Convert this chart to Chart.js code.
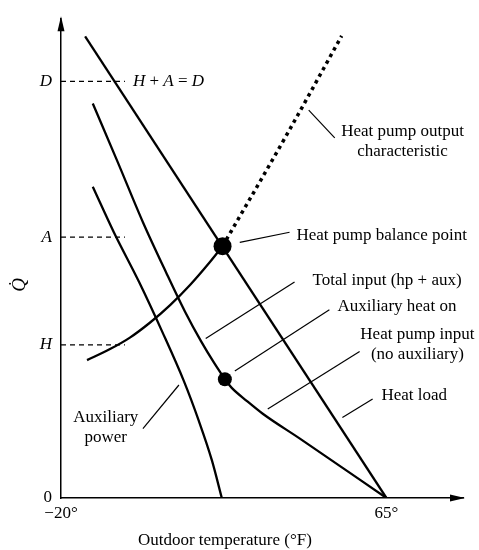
<!DOCTYPE html>
<html>
<head>
<meta charset="utf-8">
<script src="https://cdn.jsdelivr.net/npm/chart.js@4.4.1/dist/chart.umd.min.js"></script>
<style>
  body { margin: 0; background: #fff; }
  #wrap { width: 479px; height: 550px; }
</style>
</head>
<body>
<div id="wrap"><canvas id="balance-chart" width="479" height="550"></canvas></div>
<script>
// levels on the heat-rate axis (arbitrary units, 0..100)
const H = 32, A = 54.5, D = 87;

// curves: outdoor temperature (°F) -> heat rate
const loadTemp = [-13.7, 65];
const loadQ = [96.4, 0];

const outputTemp = [-13.2, -7.2, -2.0, 3.2, 8.5, 13.7, 18.9, 22.2];
const outputQ = [28.8, 31.1, 33.5, 36.6, 40.3, 44.5, 49.3, 52.6];

const outputExtTemp = [22.2, 28.8, 39.2, 53.3];
const outputExtQ = [52.6, 61.7, 76.2, 96.5];

const totalTemp = [-11.7, -5.1, 1.4, 7.4, 12.4, 16.6, 20.0, 22.8];
const totalQ = [82.4, 70.0, 57.6, 47.2, 38.9, 32.7, 28.2, 24.8];

const hpInputTemp = [22.8, 24.6, 28.5, 32.7, 42.4, 65];
const hpInputQ = [24.8, 23.0, 20.3, 17.6, 12.4, 0];

const auxTemp = [-11.7, -6.2, 0.4, 6.4, 12.1, 16.0, 19.4, 22.0];
const auxQ = [65.0, 55.5, 45.1, 34.8, 24.4, 16.1, 7.9, 0];

const balancePoint = [22.2, 52.6];
const auxOnPoint = [22.8, 24.8];

const yTicks = [0, H, A, D];
const yTickLabels = ['0', 'H', 'A', 'D'];
const xTicks = [-20, 65];
const xTickLabels = ['\u221220\u00b0', '65\u00b0'];
const guideEnd = -3.3;

const serif = "'Liberation Serif', 'DejaVu Serif', serif";

// callouts: text anchor and leader line, in data units
const notes = [
  { text: ['Heat pump output', 'characteristic'], at: [69.2, 76.6], align: 'center', line: [[44.7, 81.0], [51.5, 75.2]] },
  { text: ['Heat pump balance point'], at: [41.5, 54.9], align: 'left', line: [[26.7, 53.4], [39.7, 55.5]] },
  { text: ['Total input (hp + aux)'], at: [45.7, 45.5], align: 'left', line: [[17.8, 33.3], [41.0, 45.1]] },
  { text: ['Auxiliary heat on'], at: [52.2, 40.0], align: 'left', line: [[25.4, 26.5], [50.1, 39.3]] },
  { text: ['Heat pump input', '(no auxiliary)'], at: [73.1, 34.2], align: 'center', line: [[34.0, 18.6], [58.0, 30.6]] },
  { text: ['Heat load'], at: [63.7, 21.3], align: 'left', line: [[53.5, 16.8], [61.4, 20.7]] },
  { text: ['Auxiliary', 'power'], at: [-8.3, 16.8], align: 'center', line: [[1.4, 14.5], [10.8, 23.6]] }
];

const pts = (xs, ys) => xs.map((v, i) => ({ x: v, y: ys[i] }));

const curve = {
  showLine: true, pointRadius: 0, borderColor: '#000', backgroundColor: '#000',
  borderWidth: 2.3, cubicInterpolationMode: 'monotone', fill: false
};
const guide = {
  showLine: true, pointRadius: 0, borderColor: '#000', borderWidth: 1.2,
  borderDash: [5, 4], fill: false
};

const figureNotes = {
  id: 'figureNotes',
  afterDraw(chart) {
    const { ctx, chartArea, scales: { x, y } } = chart;
    const px = v => x.getPixelForValue(v);
    const py = v => y.getPixelForValue(v);
    ctx.save();
    ctx.fillStyle = '#000';
    ctx.strokeStyle = '#000';

    // arrow heads on both axes
    ctx.beginPath();
    ctx.moveTo(chartArea.left, chartArea.top - 3);
    ctx.lineTo(chartArea.left - 3.5, chartArea.top + 12);
    ctx.lineTo(chartArea.left + 3.5, chartArea.top + 12);
    ctx.closePath();
    ctx.fill();
    ctx.beginPath();
    ctx.moveTo(chartArea.right + 2, chartArea.bottom);
    ctx.lineTo(chartArea.right - 13, chartArea.bottom - 3.5);
    ctx.lineTo(chartArea.right - 13, chartArea.bottom + 3.5);
    ctx.closePath();
    ctx.fill();

    // leader lines and labels
    ctx.lineWidth = 1.2;
    ctx.font = '17px ' + serif;
    ctx.textBaseline = 'middle';
    notes.forEach(n => {
      ctx.beginPath();
      ctx.moveTo(px(n.line[0][0]), py(n.line[0][1]));
      ctx.lineTo(px(n.line[1][0]), py(n.line[1][1]));
      ctx.stroke();
      ctx.textAlign = n.align;
      n.text.forEach((t, i) => ctx.fillText(t, px(n.at[0]), py(n.at[1]) + i * 20));
    });

    // "H + A = D" with italic symbols
    let cx = px(-1.2);
    const cy = py(D);
    ctx.textAlign = 'left';
    [['H', true], [' + ', false], ['A', true], [' = ', false], ['D', true]].forEach(([t, it]) => {
      ctx.font = (it ? 'italic ' : '') + '17px ' + serif;
      ctx.fillText(t, cx, cy);
      cx += ctx.measureText(t).width;
    });

    // axis titles
    ctx.font = '17px ' + serif;
    ctx.textAlign = 'center';
    ctx.fillText('Outdoor temperature (\u00b0F)', px(22.8), chartArea.bottom + 43);
    ctx.translate(chartArea.left - 41, py(44.5));
    ctx.rotate(-Math.PI / 2);
    ctx.font = 'italic 19px ' + serif;
    ctx.fillText('Q\u0307', 0, 0);
    ctx.restore();
  }
};

new Chart(document.getElementById('balance-chart'), {
  type: 'scatter',
  data: {
    datasets: [
      { data: pts([balancePoint[0]], [balancePoint[1]]), pointRadius: 9, backgroundColor: '#000', borderWidth: 0, order: -1 },
      { data: pts([auxOnPoint[0]], [auxOnPoint[1]]), pointRadius: 7, backgroundColor: '#000', borderWidth: 0, order: -1 },
      { ...curve, data: pts(loadTemp, loadQ) },
      { ...curve, data: pts(outputTemp, outputQ) },
      { ...curve, data: pts(outputExtTemp, outputExtQ), borderWidth: 3.5, borderDash: [3.5, 4] },
      { ...curve, data: pts(totalTemp, totalQ) },
      { ...curve, data: pts(hpInputTemp, hpInputQ) },
      { ...curve, data: pts(auxTemp, auxQ) },
      { ...guide, data: pts([-20, guideEnd], [D, D]) },
      { ...guide, data: pts([-20, guideEnd], [A, A]) },
      { ...guide, data: pts([-20, guideEnd], [H, H]) }
    ]
  },
  options: {
    responsive: false,
    animation: false,
    layout: { padding: { top: 15, right: 16, left: 0, bottom: 0 } },
    plugins: {
      legend: { display: false },
      tooltip: { enabled: false }
    },
    scales: {
      x: {
        type: 'linear', min: -20, max: 85,
        afterBuildTicks: s => { s.ticks = xTicks.map(v => ({ value: v })); },
        afterFit: s => { s.height = 52; },
        grid: { display: false, drawTicks: false },
        border: { color: '#000', width: 1.5 },
        ticks: {
          autoSkip: false, maxRotation: 0, padding: 5, color: '#000',
          font: { family: serif, size: 17 },
          callback: (v, i) => xTickLabels[i]
        }
      },
      y: {
        type: 'linear', min: 0, max: 100,
        afterBuildTicks: s => { s.ticks = yTicks.map(v => ({ value: v })); },
        afterFit: s => { s.width = 61; },
        grid: { display: false, drawTicks: false },
        border: { color: '#000', width: 1.5 },
        ticks: {
          autoSkip: false, padding: 9, color: '#000',
          font: c => ({ family: serif, size: 17, style: c.index > 0 ? 'italic' : 'normal' }),
          callback: (v, i) => yTickLabels[i]
        }
      }
    }
  },
  plugins: [figureNotes]
});
</script>
</body>
</html>
